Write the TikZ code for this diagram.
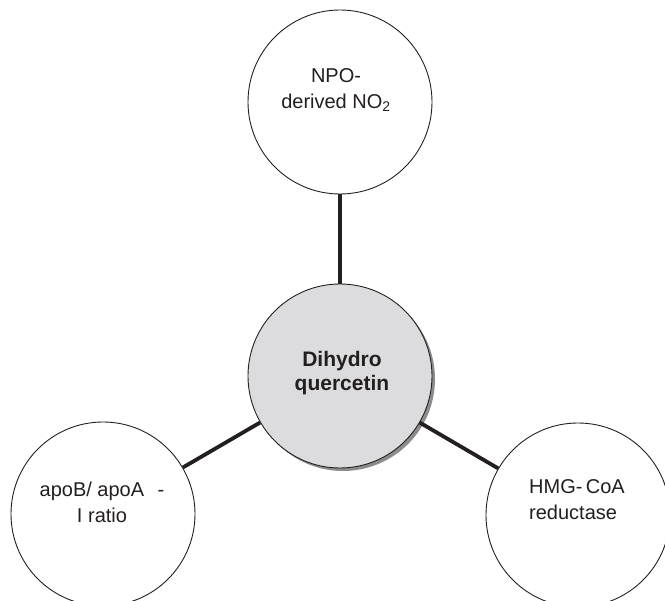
\documentclass[tikz,border=0pt]{standalone}
\usepackage{fontspec}
\setmainfont{Liberation Sans}
\definecolor{ink}{HTML}{231F20}
\definecolor{midfill}{HTML}{DCDCDE}
\begin{document}
\begin{tikzpicture}[x=1pt,y=-1pt,
  bubble/.style={circle,draw=ink,line width=0.9pt,fill=white,minimum size=184pt,inner sep=0pt},
  lbl/.style={font=\fontsize{20}{26}\selectfont,align=center,text=ink,inner sep=0pt},
  conn/.style={line width=3.8pt,draw=ink}]
\useasboundingbox (0,0) rectangle (665,601);
\node[bubble] (top) at (340,102) {};
\node[bubble] (left) at (103,514) {};
\node[bubble] (right) at (578,515) {};
\fill[black!45] (343,379) circle (92pt);
\node[bubble,fill=midfill] (mid) at (340,376) {};
\draw[conn] (top) -- (mid);
\draw[conn] (left) -- (mid);
\draw[conn] (right) -- (mid);
% labels
\node[lbl] (tt) at (336,90) {NPO-\\derived NO\textsubscript{2}};
\node[lbl,font=\bfseries\fontsize{21}{24}\selectfont] (mt) at (342,373) {Dihydro\\quercetin};
\node[lbl] (lt) at (102,502) {apoB/ apoA\hspace{13.5pt}-\\I ratio};
\node[lbl,align=left,anchor=west] (rt) at (529,500) {HMG-\,CoA\\reductase};
\end{tikzpicture}
\end{document}
